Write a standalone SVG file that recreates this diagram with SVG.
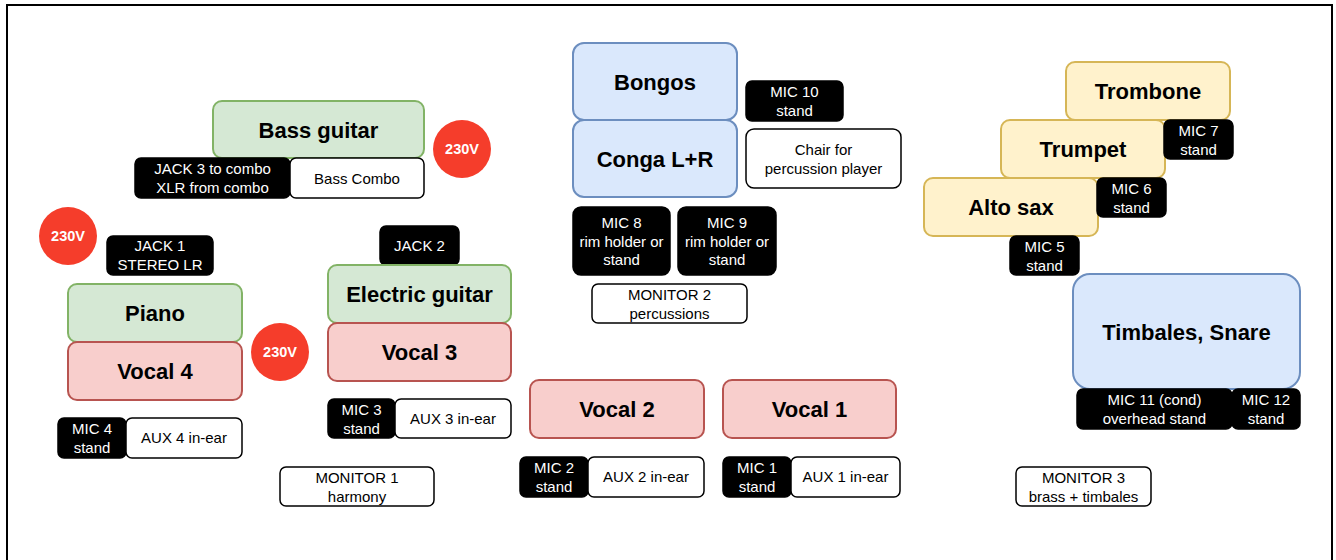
<svg xmlns="http://www.w3.org/2000/svg" width="1336" height="560" viewBox="0 0 1336 560">
<style>
text{font-family:"Liberation Sans",Arial,sans-serif;text-anchor:middle}
.t{font-size:22px;font-weight:bold;fill:#000}
.s{font-size:15px;fill:#000}
.w{font-size:15px;fill:#fff}
.v{font-size:14.5px;font-weight:bold;fill:#fff}
.g{fill:#d5e8d4;stroke:#82b366;stroke-width:2}
.r{fill:#f8cecc;stroke:#b85450;stroke-width:2}
.b{fill:#dae8fc;stroke:#6c8ebf;stroke-width:2}
.y{fill:#fff2cc;stroke:#d6b656;stroke-width:2}
.k{fill:#000;stroke:#000;stroke-width:1.5}
.o{fill:#fff;stroke:#000;stroke-width:1.5}
.p{fill:#f53d2b}
</style>
<rect x="0" y="0" width="1336" height="560" fill="#fff"/>
<rect x="7" y="5" width="1325" height="620" fill="none" stroke="#000" stroke-width="2"/>
<g id="connectors"/>

<g id="bass-guitar"><rect class="g" x="213" y="101" width="211" height="57" rx="9"/><text class="t" x="318.5" y="137.5">Bass guitar</text></g>
<g id="jack3"><rect class="k" x="135" y="158" width="155" height="40" rx="6"/><text class="w" x="212.5" y="174">JACK 3 to combo</text><text class="w" x="212.5" y="193">XLR from combo</text></g>
<g id="bass-combo"><rect class="o" x="290" y="158" width="134" height="40" rx="6"/><text class="s" x="357" y="183.5">Bass Combo</text></g>
<g id="power-bass"><circle class="p" cx="462" cy="149" r="29"/><text class="v" x="462" y="154">230V</text></g>

<g id="power-piano"><circle class="p" cx="68" cy="236" r="29"/><text class="v" x="68" y="241">230V</text></g>
<g id="jack1"><rect class="k" x="107" y="236" width="106" height="39" rx="6"/><text class="w" x="160" y="251">JACK 1</text><text class="w" x="160" y="270">STEREO LR</text></g>
<g id="jack2"><rect class="k" x="380" y="226" width="79" height="39" rx="6"/><text class="w" x="419.5" y="251">JACK 2</text></g>

<g id="piano"><rect class="g" x="68" y="284" width="174" height="58" rx="9"/><text class="t" x="155" y="321">Piano</text></g>
<g id="vocal4"><rect class="r" x="68" y="342" width="174" height="58" rx="9"/><text class="t" x="155" y="379">Vocal 4</text></g>
<g id="power-mid"><circle class="p" cx="280" cy="352" r="29"/><text class="v" x="280" y="357">230V</text></g>
<g id="electric-guitar"><rect class="g" x="328" y="265" width="183" height="58" rx="9"/><text class="t" x="419.5" y="302">Electric guitar</text></g>
<g id="vocal3"><rect class="r" x="328" y="323" width="183" height="58" rx="9"/><text class="t" x="419.5" y="360">Vocal 3</text></g>

<g id="mic3"><rect class="k" x="328" y="399" width="67" height="39" rx="6"/><text class="w" x="361.5" y="415">MIC 3</text><text class="w" x="361.5" y="434">stand</text></g>
<g id="aux3"><rect class="o" x="395" y="399" width="116" height="39" rx="6"/><text class="s" x="453" y="424">AUX 3 in-ear</text></g>
<g id="mic4"><rect class="k" x="58" y="418" width="68" height="40" rx="6"/><text class="w" x="92" y="434">MIC 4</text><text class="w" x="92" y="453">stand</text></g>
<g id="aux4"><rect class="o" x="126" y="418" width="116" height="40" rx="6"/><text class="s" x="184" y="443">AUX 4 in-ear</text></g>
<g id="monitor1"><rect class="o" x="280" y="467" width="154" height="39" rx="6"/><text class="s" x="357" y="483">MONITOR 1</text><text class="s" x="357" y="502">harmony</text></g>

<g id="bongos"><rect class="b" x="573" y="43" width="164" height="77" rx="11"/><text class="t" x="655" y="90">Bongos</text></g>
<g id="conga"><rect class="b" x="573" y="120" width="164" height="77" rx="11"/><text class="t" x="655" y="167">Conga L+R</text></g>
<g id="mic10"><rect class="k" x="746" y="81" width="97" height="40" rx="6"/><text class="w" x="794.5" y="97">MIC 10</text><text class="w" x="794.5" y="116">stand</text></g>
<g id="chair"><rect class="o" x="746" y="129" width="155" height="59" rx="8"/><text class="s" x="823.5" y="155">Chair for</text><text class="s" x="823.5" y="174">percussion player</text></g>
<g id="mic8"><rect class="k" x="573" y="207" width="97" height="68" rx="8"/><text class="w" x="621.5" y="228">MIC 8</text><text class="w" x="621.5" y="247">rim holder or</text><text class="w" x="621.5" y="265">stand</text></g>
<g id="mic9"><rect class="k" x="678" y="207" width="98" height="68" rx="8"/><text class="w" x="727" y="228">MIC 9</text><text class="w" x="727" y="247">rim holder or</text><text class="w" x="727" y="265">stand</text></g>
<g id="monitor2"><rect class="o" x="592" y="284" width="155" height="39" rx="6"/><text class="s" x="669.5" y="300">MONITOR 2</text><text class="s" x="669.5" y="319">percussions</text></g>

<g id="vocal2"><rect class="r" x="530" y="380" width="174" height="58" rx="9"/><text class="t" x="617" y="417">Vocal 2</text></g>
<g id="vocal1"><rect class="r" x="723" y="380" width="173" height="58" rx="9"/><text class="t" x="809.5" y="417">Vocal 1</text></g>
<g id="mic2"><rect class="k" x="520" y="457" width="68" height="40" rx="6"/><text class="w" x="554" y="473">MIC 2</text><text class="w" x="554" y="492">stand</text></g>
<g id="aux2"><rect class="o" x="588" y="457" width="116" height="40" rx="6"/><text class="s" x="646" y="482">AUX 2 in-ear</text></g>
<g id="mic1"><rect class="k" x="723" y="457" width="68" height="40" rx="6"/><text class="w" x="757" y="473">MIC 1</text><text class="w" x="757" y="492">stand</text></g>
<g id="aux1"><rect class="o" x="791" y="457" width="109" height="40" rx="6"/><text class="s" x="845.5" y="482">AUX 1 in-ear</text></g>

<g id="trombone"><rect class="y" x="1066" y="62" width="164" height="58" rx="9"/><text class="t" x="1148" y="99">Trombone</text></g>
<g id="trumpet"><rect class="y" x="1001" y="120" width="164" height="58" rx="9"/><text class="t" x="1083" y="157">Trumpet</text></g>
<g id="alto-sax"><rect class="y" x="924" y="178" width="174" height="58" rx="9"/><text class="t" x="1011" y="215">Alto sax</text></g>
<g id="mic7"><rect class="k" x="1164" y="120" width="69" height="39" rx="6"/><text class="w" x="1198.5" y="136">MIC 7</text><text class="w" x="1198.5" y="155">stand</text></g>
<g id="mic6"><rect class="k" x="1097" y="178" width="69" height="39" rx="6"/><text class="w" x="1131.5" y="194">MIC 6</text><text class="w" x="1131.5" y="213">stand</text></g>
<g id="mic5"><rect class="k" x="1010" y="236" width="69" height="39" rx="6"/><text class="w" x="1044.5" y="252">MIC 5</text><text class="w" x="1044.5" y="271">stand</text></g>

<g id="timbales"><rect class="b" x="1073" y="274" width="227" height="115" rx="17"/><text class="t" x="1186.5" y="340">Timbales, Snare</text></g>
<g id="mic11"><rect class="k" x="1077" y="389" width="155" height="40" rx="6"/><text class="w" x="1154.5" y="405">MIC 11 (cond)</text><text class="w" x="1154.5" y="424">overhead stand</text></g>
<g id="mic12"><rect class="k" x="1232" y="389" width="68" height="40" rx="6"/><text class="w" x="1266" y="405">MIC 12</text><text class="w" x="1266" y="424">stand</text></g>
<g id="monitor3"><rect class="o" x="1016" y="467" width="135" height="39" rx="6"/><text class="s" x="1083.5" y="483">MONITOR 3</text><text class="s" x="1083.5" y="502">brass + timbales</text></g>
</svg>
